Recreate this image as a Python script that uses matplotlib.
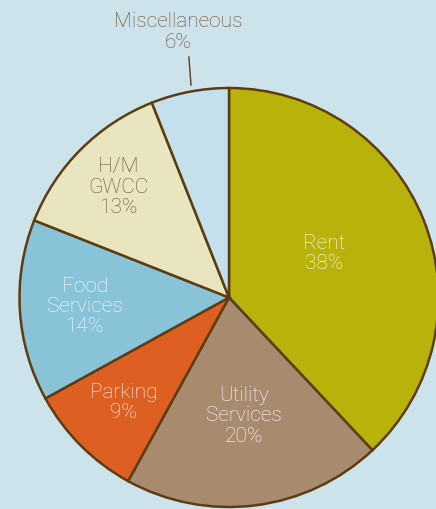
import numpy as np
import matplotlib.pyplot as plt

# slice data, clockwise from 12 o'clock
labels = ["Rent", "Utility\nServices", "Parking", "Food\nServices", "H/M\nGWCC", "Miscellaneous"]
shares = [38, 20, 9, 14, 13, 6]
colors = ["#b9b20a", "#a88b6e", "#dd5f22", "#88c3d8", "#e9e6bf", "#c3e0ec"]
text_colors = ["white", "white", "white", "white", "#6b4a28", "#6b4a28"]
label_r = [0.49, 0.57, 0.71, 0.69, 0.745, 1.29]

bg = "#cde3ec"
edge = "#5e3c12"

plt.rcParams['font.family'] = ['Roboto', 'DejaVu Sans']

fig = plt.figure(figsize=(4.36, 5.09), dpi=100, facecolor=bg)
ax = fig.add_axes([0, 0, 1, 1])
ax.set_facecolor(bg)

wedges, _ = ax.pie(shares, colors=colors, startangle=90, counterclock=False,
                   radius=1.0, wedgeprops=dict(edgecolor=edge, linewidth=1.8))

total = sum(shares)
start = 90.0
for i, (lab, val) in enumerate(zip(labels, shares)):
    span = 360.0 * val / total
    mid = np.radians(start - span / 2)
    start -= span
    r = label_r[i]
    x, y = r * np.cos(mid), r * np.sin(mid)
    if i == 0:
        y += 0.03
    ax.text(x, y, f"{lab}\n{val}%", ha="center", va="center", color=text_colors[i],
            fontsize=15, fontweight="light", linespacing=1.08)
    if i == len(labels) - 1:
        # leader line for the small slice
        bx, by = 1.0 * np.cos(mid) + 0.006, 1.014
        ax.plot([bx, bx - 0.01], [by, by + 0.134], color=edge, linewidth=1.0)

ax.set_xlim(-229 / 209.5, (436 - 229) / 209.5)
ax.set_ylim((297.5 - 509) / 209.5, 297.5 / 209.5)
ax.set_aspect("equal")
ax.axis("off")

fig.savefig("out.png", dpi=100, facecolor=bg)
